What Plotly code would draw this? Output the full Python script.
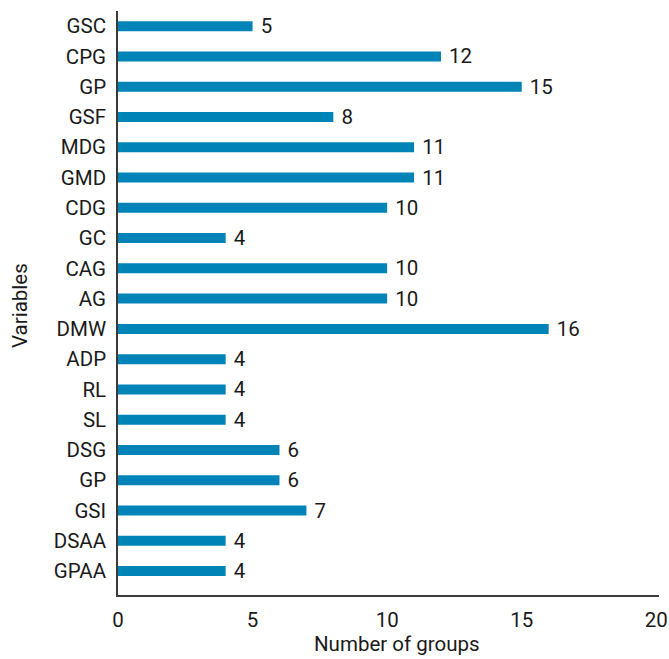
import plotly.graph_objects as go

categories = ["GSC", "CPG", "GP", "GSF", "MDG", "GMD", "CDG", "GC", "CAG", "AG",
              "DMW", "ADP", "RL", "SL", "DSG", "GP", "GSI", "DSAA", "GPAA"]
values = [5, 12, 15, 8, 11, 11, 10, 4, 10, 10, 16, 4, 4, 4, 6, 6, 7, 4, 4]
x_ticks = [0, 5, 10, 15, 20]

n = len(categories)
ypos = [n - 1 - i for i in range(n)]

FONT = "Roboto, sans-serif"
TXT = "#1a1a1a"
FS = 20.5

fig = go.Figure(go.Bar(
    x=values, y=ypos, orientation="h",
    marker=dict(color="#0084B7", line=dict(width=0)),
    width=0.33,
    text=[str(v) for v in values], textposition="outside",
    texttemplate=" %{text}",
    constraintext="none",
    textfont=dict(size=FS, color=TXT, family=FONT),
    cliponaxis=False,
))

fig.update_layout(
    width=669, height=659,
    margin=dict(l=118, r=10, t=11, b=64, autoexpand=False),
    plot_bgcolor="white", paper_bgcolor="white",
    font=dict(family=FONT, size=FS, color=TXT),
    showlegend=False,
    xaxis=dict(range=[0, 20.1], tickvals=x_ticks, showgrid=False, zeroline=False,
               showline=True, linecolor="#3a3a3a", linewidth=1.6, ticks="",
               ticklabelstandoff=6, automargin=False,
               tickfont=dict(size=FS)),
    yaxis=dict(range=[-0.79, n - 0.5], tickvals=ypos, ticktext=categories,
               showgrid=False, zeroline=False, showline=True, linecolor="#3a3a3a",
               linewidth=1.6, ticks="", ticklabelstandoff=6, automargin=False,
               tickfont=dict(size=FS)),
    annotations=[
        dict(text="Number of groups", xref="paper", yref="paper", x=0.5, y=0,
             xanchor="center", yanchor="middle", xshift=8, yshift=-49,
             showarrow=False, font=dict(size=FS, color=TXT)),
        dict(text="Variables", xref="paper", yref="paper", x=0, y=0.5,
             xanchor="center", yanchor="middle", xshift=-98, yshift=-3,
             textangle=-90, showarrow=False, font=dict(size=FS, color=TXT)),
    ],
)

fig.write_html("out.html",
               config={"displayModeBar": False},
               post_script="document.body.style.margin='0px';document.body.style.overflow='hidden';")
